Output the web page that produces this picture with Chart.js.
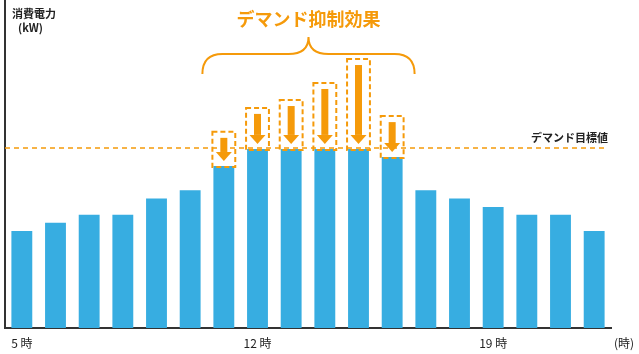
<!DOCTYPE html>
<html>
<head>
<meta charset="utf-8">
<script src="https://cdn.jsdelivr.net/npm/chart.js@4"></script>
<style>
  html, body { margin: 0; padding: 0; background: #fff; }
  #wrap { width: 639px; height: 354px; }
</style>
</head>
<body>
<div id="wrap"><canvas id="chart" width="639" height="354"></canvas></div>
<script>
// 時刻 (5時〜22時)
const hours = [5, 6, 7, 8, 9, 10, 11, 12, 13, 14, 15, 16, 17, 18, 19, 20, 21, 22];
const tickHours = [5, 12, 19];
// 消費電力 (抑制後)
const demand = [29.6, 32.1, 34.5, 34.5, 39.5, 42.0, 49.4, 54.6, 54.6, 54.6, 54.6, 52.1, 42.0, 39.5, 36.9, 34.5, 34.5, 29.6];
// 抑制前のピーク (抑制した時間帯のみ)
const peakDemand = [null, null, null, null, null, null, 59.8, 67.1, 69.5, 74.7, 82.0, 64.6, null, null, null, null, null, null];
const targetValue = 54.9;

const ORANGE = "#f59a0a";
const BLUE = "#37ade1";
const FONT = "'Noto Sans CJK JP', 'Noto Sans', sans-serif";

// 目標線・抑制の矢印・括弧・文字
const demandPlugin = {
  id: "demandPlugin",
  afterDatasetsDraw(chart) {
    const ctx = chart.ctx;
    const area = chart.chartArea;
    const y = chart.scales.y;
    const bars = chart.getDatasetMeta(0).data;

    // デマンド目標値 line
    const ty = y.getPixelForValue(targetValue);
    ctx.save();
    ctx.strokeStyle = ORANGE;
    ctx.lineWidth = 1.5;
    ctx.setLineDash([5, 4]);
    ctx.beginPath();
    ctx.moveTo(area.left, ty);
    ctx.lineTo(area.right - 3, ty);
    ctx.stroke();
    ctx.restore();

    // 抑制の箱と矢印
    let first = null, last = null;
    peakDemand.forEach((p, i) => {
      if (p == null) return;
      const bar = bars[i];
      const top = y.getPixelForValue(p);
      const bottom = y.getPixelForValue(demand[i]) + 1;
      const cx = bar.x;
      const half = bar.width / 2 + 1;
      if (first === null) first = bar;
      last = bar;

      ctx.save();
      ctx.strokeStyle = ORANGE;
      ctx.lineWidth = 2;
      ctx.setLineDash([5, 3]);
      ctx.strokeRect(cx - half, top, half * 2, bottom - top);
      ctx.restore();

      const aTop = top + 6;
      const aTip = bottom - 6;
      const head = 9;
      ctx.save();
      ctx.fillStyle = ORANGE;
      ctx.fillRect(cx - 3.5, aTop, 7, aTip - head - aTop);
      ctx.beginPath();
      ctx.moveTo(cx - 8, aTip - head);
      ctx.lineTo(cx + 8, aTip - head);
      ctx.lineTo(cx, aTip);
      ctx.closePath();
      ctx.fill();
      ctx.restore();
    });

    // 括弧
    const bl = first.x - first.width / 2 - 11;
    const br = last.x + last.width / 2 + 12;
    const bm = (bl + br) / 2;
    const yLow = 74, yMid = 54, yTip = 37;
    ctx.save();
    ctx.strokeStyle = ORANGE;
    ctx.lineWidth = 2;
    ctx.beginPath();
    ctx.moveTo(bl, yLow);
    ctx.quadraticCurveTo(bl, yMid, bl + 20, yMid);
    ctx.lineTo(bm - 20, yMid);
    ctx.quadraticCurveTo(bm, yMid, bm, yTip);
    ctx.quadraticCurveTo(bm, yMid, bm + 20, yMid);
    ctx.lineTo(br - 20, yMid);
    ctx.quadraticCurveTo(br, yMid, br, yLow);
    ctx.stroke();
    ctx.restore();

    ctx.save();
    ctx.textBaseline = "middle";
    ctx.fillStyle = ORANGE;
    ctx.font = "bold 18px " + FONT;
    ctx.textAlign = "center";
    ctx.fillText("デマンド抑制効果", bm, 19);

    ctx.fillStyle = "#222";
    ctx.font = "bold 11px " + FONT;
    ctx.textAlign = "right";
    ctx.fillText("デマンド目標値", area.right - 3, ty - 10);

    ctx.textAlign = "left";
    ctx.fillText("消費電力", 12, 14);
    ctx.fillText("(kW)", 18, 28);

    ctx.font = "12px " + FONT;
    ctx.fillText("(時)", 614, 343);
    ctx.restore();
  }
};

new Chart(document.getElementById("chart"), {
  type: "bar",
  data: {
    labels: hours,
    datasets: [
      {
        data: demand,
        backgroundColor: BLUE,
        barPercentage: 0.62,
        categoryPercentage: 1.0,
      },
    ],
  },
  options: {
    responsive: false,
    animation: false,
    layout: { padding: { left: 5, right: 28, top: 0, bottom: 0 } },
    plugins: { legend: { display: false }, tooltip: { enabled: false } },
    scales: {
      x: {
        grid: { display: false, drawTicks: false },
        border: { color: "#333", width: 2 },
        afterFit: function (scale) {
          scale.height = 26;
        },
        ticks: {
          autoSkip: false,
          maxRotation: 0,
          padding: 8,
          color: "#222",
          font: { size: 12, family: FONT },
          callback: function (value, index) {
            const h = hours[index];
            return tickHours.includes(h) ? h + " 時" : "";
          },
        },
      },
      y: {
        min: 0,
        max: 100,
        grid: { display: false, drawTicks: false },
        border: { color: "#333", width: 2 },
        ticks: { display: false },
      },
    },
  },
  plugins: [demandPlugin],
});
</script>
</body>
</html>
